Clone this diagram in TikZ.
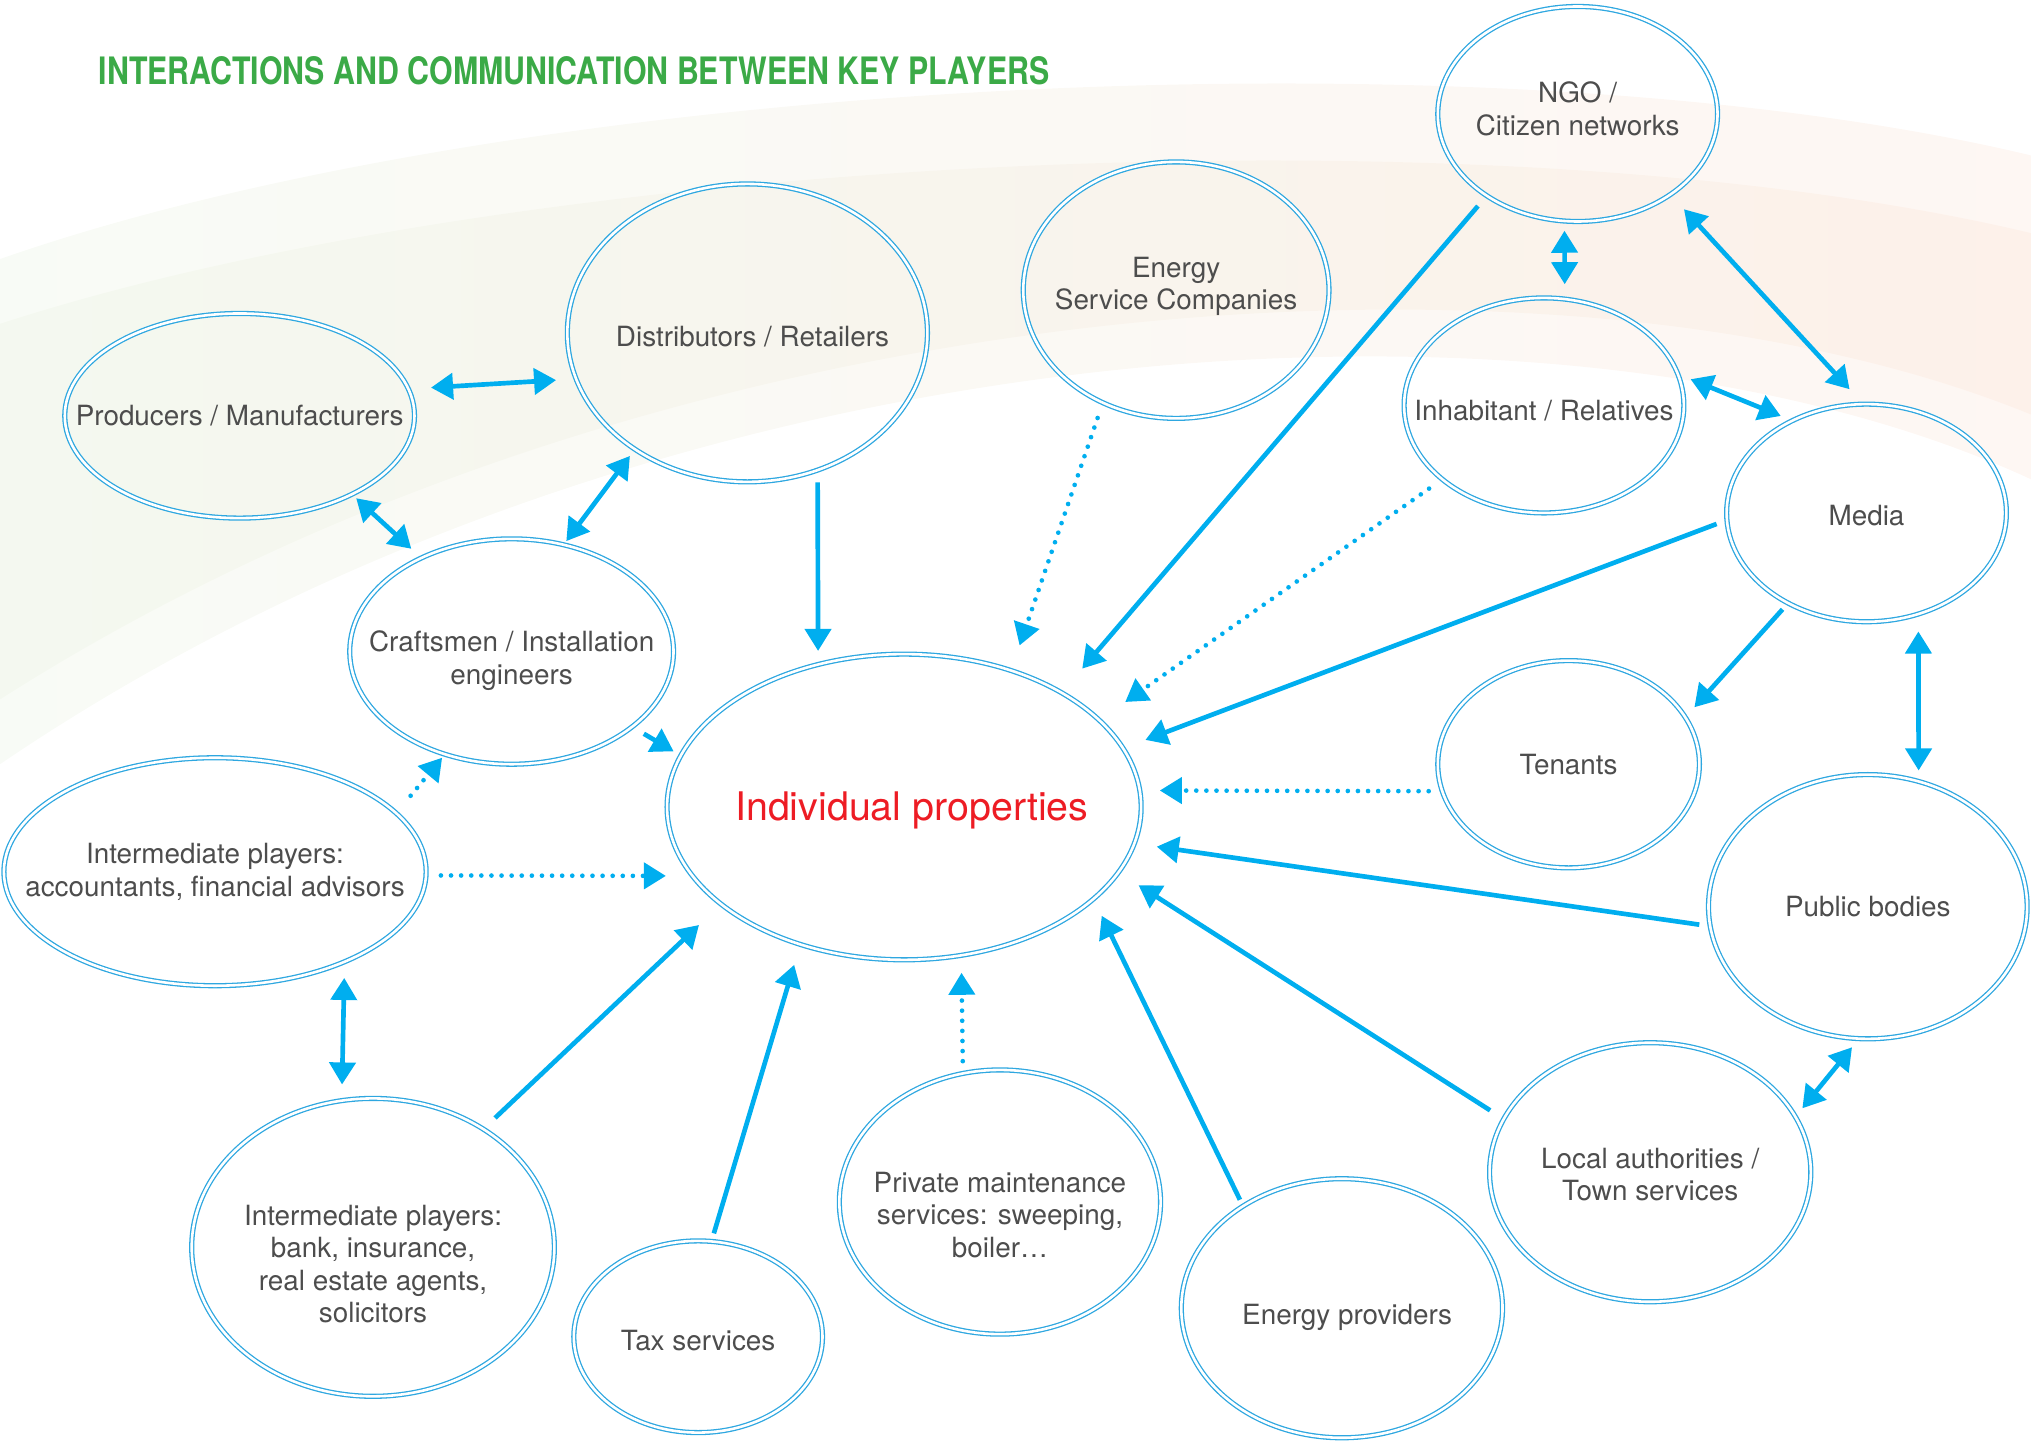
\documentclass[tikz,border=0pt]{standalone}
\usepackage{fontspec}
\setmainfont{TeX Gyre Heros}
\usetikzlibrary{shapes.geometric,arrows.meta}
\definecolor{ringblue}{HTML}{2EA7E0}
\definecolor{arrowblue}{HTML}{00AEEF}
\definecolor{txtgray}{HTML}{4D4D4D}
\definecolor{titlegreen}{HTML}{3BAA47}
\definecolor{propred}{HTML}{ED1C24}
\definecolor{bggreen}{HTML}{E9F2E1}
\definecolor{bgpeach}{HTML}{FBE3D6}
\tikzset{
  player/.style={ellipse, draw=ringblue, line width=1pt, double=white, double distance=2pt, inner sep=0pt},
  every label/.style={align=center, text=txtgray, font=\fontsize{21.5pt}{25pt}\selectfont},
  link/.style={draw=arrowblue, line width=3.6pt, -{Triangle[length=17pt,width=20pt]}},
  both/.style={link, {Triangle[length=17pt,width=20pt]}-{Triangle[length=17pt,width=20pt]}},
  hint/.style={link, line cap=round, dash pattern=on 0pt off 7.8pt}
}
\begin{document}
\begin{tikzpicture}[x=1pt,y=-1pt]
  \useasboundingbox (0,0) rectangle (1568,1113);
  % faint background swoosh
  \shade[left color=bggreen, right color=bgpeach, opacity=.3] (0,200) .. controls (400,60) and (1150,20) .. (1568,120) -- (1568,370) .. controls (1200,200) and (500,250) .. (0,590) -- cycle;
  \shade[left color=bggreen, right color=bgpeach, opacity=.3] (0,250) .. controls (400,120) and (1150,80) .. (1568,180) -- (1568,320) .. controls (1200,170) and (500,220) .. (0,540) -- cycle;

  \node[anchor=base west, inner sep=0pt] (title) at (76,65) {\color{titlegreen}\resizebox{734pt}{21.6pt}{\bfseries INTERACTIONS AND COMMUNICATION BETWEEN KEY PLAYERS}};

  \node[player, minimum width=270pt, minimum height=158pt, label=center:{Producers / Manufacturers}] (prod) at (185,321) {};
  \node[player, minimum width=278pt, minimum height=230pt, label={[shift={(4pt,-3pt)}]center:{Distributors / Retailers}}] (dist) at (577,257) {};
  \node[player, minimum width=236pt, minimum height=198pt, label={[yshift=3pt]center:{Energy\\Service Companies}}] (esco) at (908,224) {};
  \node[player, minimum width=216pt, minimum height=166pt, label={[yshift=4pt]center:{NGO /\\Citizen networks}}] (ngo) at (1218,88) {};
  \node[player, minimum width=216pt, minimum height=166pt, label={[yshift=-4pt]center:{Inhabitant / Relatives}}] (inh) at (1192,313) {};
  \node[player, minimum width=216pt, minimum height=168pt, label={[yshift=-2pt]center:{Media}}] (media) at (1441,396) {};
  \node[player, minimum width=250pt, minimum height=174pt, label={[yshift=-7pt]center:{Craftsmen / Installation\\engineers}}] (craft) at (395,503) {};
  \node[player, minimum width=366pt, minimum height=236pt, label={[shift={(6pt,-3pt)}, text=propred, font=\fontsize{30.4pt}{34pt}\selectfont]center:{Individual properties}}] (indiv) at (698,623) {};
  \node[player, minimum width=202pt, minimum height=160pt, label=center:{Tenants}] (ten) at (1211,590) {};
  \node[player, minimum width=326pt, minimum height=176pt, label=center:{Intermediate players:\\accountants, financial advisors}] (inter1) at (166,673) {};
  \node[player, minimum width=246pt, minimum height=204pt, label=center:{Public bodies}] (public) at (1442,700) {};
  \node[player, minimum width=280pt, minimum height=230pt, label={[yshift=-13pt]center:{Intermediate players:\\bank, insurance,\\real estate agents,\\solicitors}}] (inter2) at (288,963) {};
  \node[player, minimum width=192pt, minimum height=148pt, label={[yshift=-3pt]center:{Tax services}}] (tax) at (539,1032) {};
  \node[player, minimum width=248pt, minimum height=204pt, label={[yshift=-10pt]center:{Private maintenance\\services: sweeping,\\boiler…}}] (priv) at (772,928) {};
  \node[player, minimum width=248pt, minimum height=200pt, label={[yshift=-2pt]center:{Local authorities /\\Town services}}] (local) at (1274,905) {};
  \node[player, minimum width=248pt, minimum height=200pt, label={[shift={(4pt,-7pt)}]center:{Energy providers}}] (eprov) at (1036,1010) {};

  \draw[both, shorten <=17pt, shorten >=15pt] (prod.9) -- (dist.195);
  \draw[both, shorten <=4pt, shorten >=10pt] (prod.-35) -- (craft.134);
  \draw[both, shorten <=3pt, shorten >=6pt] (craft.64) -- (dist.226);
  \draw[link, shorten <=9pt, shorten >=10pt] (dist.-63) -- (indiv.121);
  \draw[link, shorten <=10pt, shorten >=6pt] (craft.-32) -- (indiv.167);
  \draw[link, shorten <=10pt, shorten >=24pt] (ngo.222) -- (indiv.36);
  \draw[both, shorten <=7pt, shorten >=11pt] (ngo.263) -- (inh.79);
  \draw[both, shorten <=15pt, shorten >=15pt] (ngo.-41) -- (media.92);
  \draw[both, shorten <=10pt, shorten >=9pt] (inh.13) -- (media.129);
  \draw[link, shorten <=8pt, shorten >=18pt] (media.183) -- (indiv.15);
  \draw[link, shorten <=6pt, shorten >=10pt] (media.229) -- (ten.22);
  \draw[both, shorten <=13pt, shorten >=8pt] (media.-63) -- (public.68);
  \draw[link, shorten <=8pt, shorten >=17pt] (public.187) -- (indiv.-9);
  \draw[both, shorten <=8pt, shorten >=8pt] (local.21) -- (public.266);
  \draw[link, shorten <=12pt, shorten >=18pt] (local.160) -- (indiv.-17);
  \draw[link, shorten <=5pt, shorten >=14pt] (eprov.134) -- (indiv.-26);
  \draw[link, shorten <=6pt, shorten >=16pt] (tax.82) -- (indiv.233);
  \draw[link, shorten <=12pt, shorten >=23pt] (inter2.47) -- (indiv.208);
  \draw[both, shorten <=12pt, shorten >=12pt] (inter1.-35) -- (inter2.102);

  \draw[hint, shorten <=12pt, shorten >=20pt] (esco.237) -- (indiv.52);
  \draw[hint, shorten <=12pt, shorten >=24pt] (inh.216) -- (indiv.24);
  \draw[hint, shorten <=10pt, shorten >=15pt] (ten.192) -- (indiv.4);
  \draw[hint, shorten <=11pt, shorten >=20pt] (inter1.-1) -- (indiv.198);
  \draw[hint, shorten <=17pt, shorten >=3pt] (inter1.18) -- (craft.237);
  \draw[hint, shorten <=9pt, shorten >=13pt] (priv.106) -- (indiv.-69);
\end{tikzpicture}
\end{document}
